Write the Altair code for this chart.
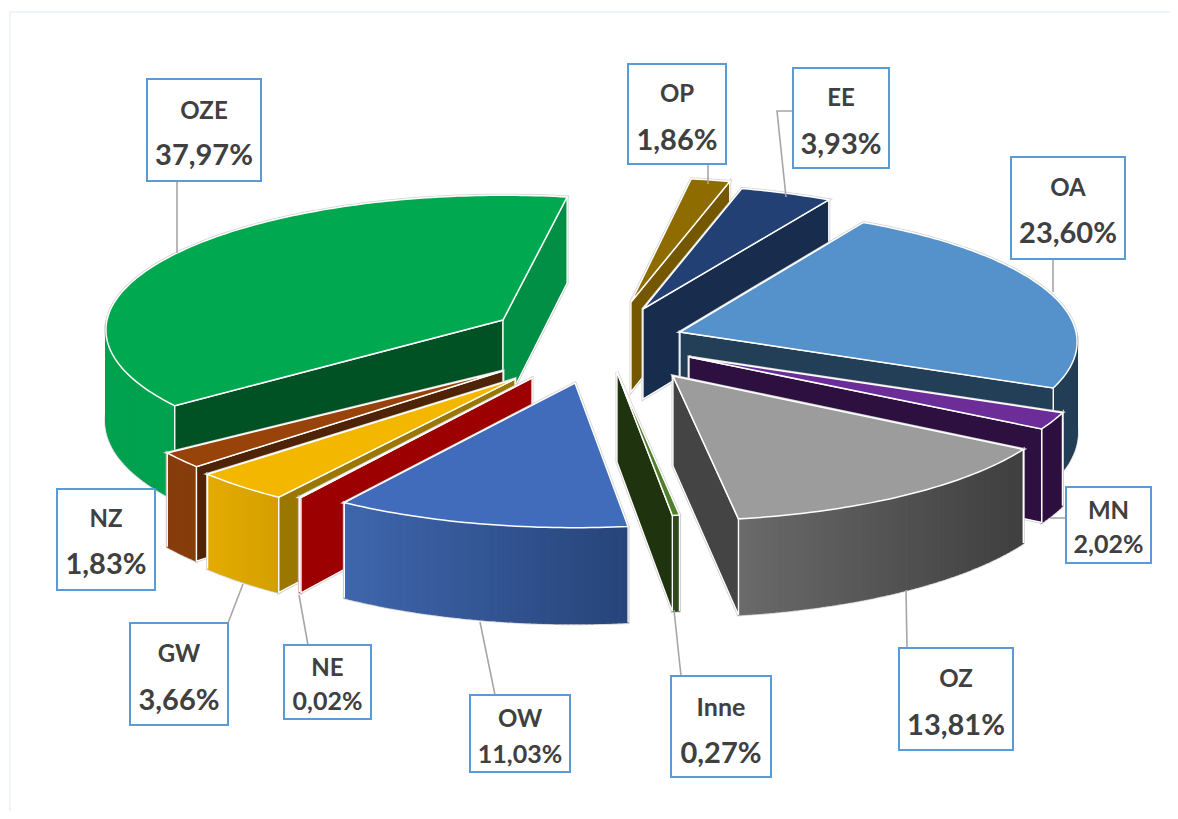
import math
import altair as alt

# --- chart values, clockwise from the first slice ---
names = ["OP", "EE", "OA", "MN", "OZ", "Inne", "OW", "NE", "GW", "NZ", "OZE"]
shares = [1.86, 3.93, 23.60, 2.02, 13.81, 0.27, 11.03, 0.02, 3.66, 1.83, 37.97]
share_text = ["1,86%", "3,93%", "23,60%", "2,02%", "13,81%", "0,27%", "11,03%", "0,02%", "3,66%", "1,83%", "37,97%"]

top_colors = ["#8E6C00", "#234074", "#5591CB", "#6C2D98", "#9C9C9C", "#4F7F2A", "#416CBB", "#C00000", "#F4B700", "#974309", "#00A84F"]
wall_left = ["#7A5C00", "#1A2E50", "#233F57", "#2D1040", "#6A6A6A", "#2F4A1F", "#3F66AD", "#9C0000", "#E4AB00", "#873D0B", "#00A14F"]
wall_right = ["#7A5C00", "#1A2E50", "#233F57", "#2D1040", "#3F3F3F", "#2F4A1F", "#27447A", "#9C0000", "#D49F00", "#873D0B", "#00A14F"]
face_start = ["#755700", "#182D4E", "#233F57", "#2D1040", "#444444", "#20330F", "#27447A", "#9C0000", "#9A7800", "#4F2306", "#005124"]
face_end = ["#755700", "#182D4E", "#233F57", "#2D1040", "#444444", "#20330F", "#3F66AD", "#9C0000", "#9A7800", "#4F2306", "#008F45"]

# --- 3-D pie geometry: where each exploded slice's tip sits ---
tip_x = [631, 643, 680, 689, 673, 617, 575, 532, 515, 503, 503]
tip_y = [302, 309, 332, 357, 376, 372, 383, 378, 379, 371, 320]
# perspective drift of each slice's two edges, in degrees
nudge_start = [0.6, 1.2, 1.3, 2.0, 1.3, 1.2, 0.9, 0.3, -0.5, -0.6, 1.0]
nudge_end = [1.2, 0.9, 1.9, 2.0, 1.6, 1.2, 0.35, 0.1, -0.8, -0.9, 0.0]
draw_order = ["OP", "EE", "OZE", "OA", "MN", "NZ", "GW", "NE", "OZ", "Inne", "OW"]
START_ANGLE = 10.0
RX, RY, PERSP = 396.0, 134.0, 0.074
DEPTH, DEPTH_P = 91.0, 5.0

# --- label boxes: left, top, right, bottom, name y, value y, name size, value size ---
boxes = {
    "OZE": (147, 79, 261, 181, 110, 155, 24, 29),
    "OP": (628, 64, 726, 164, 93, 140, 24, 29),
    "EE": (793, 68, 889, 168, 97, 144, 24, 29),
    "OA": (1011, 157, 1125, 259, 187, 233, 24, 29),
    "MN": (1066, 487, 1151, 563, 510, 544, 24, 25),
    "OZ": (899, 648, 1013, 750, 678, 725, 24, 29),
    "Inne": (671, 676, 771, 777, 706, 753, 25, 29),
    "OW": (470, 695, 570, 772, 718, 754, 24, 25),
    "NE": (284, 645, 371, 719, 667, 701, 24, 25),
    "GW": (130, 623, 228, 725, 653, 700, 24, 29),
    "NZ": (57, 489, 155, 590, 518, 564, 24, 29),
}
leaders = [
    [(177, 181), (177, 253)],
    [(708, 164), (708, 184)],
    [(793, 111), (777, 111), (786, 197)],
    [(1053, 259), (1053, 292)],
    [(1066, 518), (1050, 518)],
    [(907, 648), (906, 590)],
    [(681, 676), (674, 610)],
    [(495, 695), (480, 622)],
    [(308, 645), (299, 595)],
    [(228, 623), (243, 584)],
]

features = []


def add(kind, coords, fill, stroke, sw):
    features.append({
        "type": "Feature",
        "geometry": {"type": kind, "coordinates": coords},
        "properties": {},
        "f": fill, "s": stroke, "w": sw,
    })


def poly(points, fill, stroke, sw):
    ring = [list(p) for p in points]
    add("Polygon", [ring + [ring[0]]], fill, stroke, sw)


def mix(c1, c2, t):
    a = [int(c1[i:i + 2], 16) for i in (1, 3, 5)]
    b = [int(c2[i:i + 2], 16) for i in (1, 3, 5)]
    return "#%02x%02x%02x" % tuple(round(x + (y - x) * t) for x, y in zip(a, b))


def rim(i, deg):
    th = math.radians(deg)
    s = 1.0 / (1.0 + PERSP * math.cos(th))
    return (tip_x[i] + RX * math.sin(th) * s, tip_y[i] - RY * math.cos(th) * s)


def depth(deg):
    return DEPTH - DEPTH_P * math.cos(math.radians(deg))


def visible(tip, corner, inner):
    ex, ey = corner[0] - tip[0], corner[1] - tip[1]
    c1 = ex * (inner[1] - tip[1]) - ey * (inner[0] - tip[0])
    c2 = ex * 1.0
    return c1 * c2 < 0


total = sum(shares)
angles = {}
acc = START_ANGLE
for j, (n, v) in enumerate(zip(names, shares)):
    sweep = v / total * 360.0
    angles[n] = (acc - nudge_start[j], acc + sweep - nudge_end[j])
    acc += sweep

EDGE = "#D2D2D2"
for n in draw_order:
    i = names.index(n)
    a, b = angles[n]
    steps = max(2, int((b - a) / 1.0))
    degs = [a + (b - a) * k / steps for k in range(steps + 1)]
    arc = [rim(i, d) for d in degs]
    tip = (tip_x[i], tip_y[i])
    mid = rim(i, (a + b) / 2)
    d_tip = DEPTH - 1.0
    lo, hi = max(a, 90.0), min(b, 270.0)
    faces = []
    for corner_deg, col in ((a, face_start[i]), (b, face_end[i])):
        c = rim(i, corner_deg)
        if visible(tip, c, mid):
            faces.append(([tip, c, (c[0], c[1] + depth(corner_deg)), (tip[0], tip[1] + d_tip)], col))
    wall = None
    if hi > lo:
        n_s = max(2, int((hi - lo) / 0.8))
        wall = [lo + (hi - lo) * k / n_s for k in range(n_s + 1)]
    # silhouette first, in a soft grey
    for pts, col in faces:
        poly(pts, col, EDGE, 3)
    if wall:
        up = [rim(i, d) for d in wall]
        down = [(p[0], p[1] + depth(d)) for p, d in zip(up, wall)]
        poly(up + down[::-1], wall_left[i], EDGE, 3)
    poly([tip] + arc, top_colors[i], EDGE, 3)
    # walls as fine strips so they shade across their width
    if wall:
        xs = [rim(i, d)[0] for d in wall]
        xmin, xmax = min(xs), max(xs)
        for k in range(len(wall) - 1):
            d0, d1 = wall[k], wall[k + 1]
            p0, p1 = rim(i, d0), rim(i, d1)
            t = 0 if xmax == xmin else ((p0[0] + p1[0]) / 2 - xmin) / (xmax - xmin)
            col = mix(wall_left[i], wall_right[i], t)
            poly([p0, p1, (p1[0], p1[1] + depth(d1)), (p0[0], p0[1] + depth(d0))], col, col, 1.2)
        for d in (wall[0], wall[-1]):
            if d in (a, b):
                p = rim(i, d)
                add("LineString", [list(p), [p[0], p[1] + depth(d)]], "transparent", "#FFFFFF", 1.4)
    for pts, col in faces:
        poly(pts, col, "#FFFFFF", 1.3)
    poly([tip] + arc, top_colors[i], "#FFFFFF", 1.5)

# frame of the picture
add("LineString", [[10, 819], [10, 12], [1178, 12]], "transparent", "#EEF5FC", 2)

for line in leaders:
    add("LineString", [list(p) for p in line], "transparent", "#A6A6A6", 1.6)

texts = []
for n, txt in zip(names, share_text):
    l, t, r, b, y1, y2, s1, s2 = boxes[n]
    poly([(l, t), (r, t), (r, b), (l, b)], "#FFFFFF", "#5B9BD5", 2)
    cx = (l + r) / 2
    texts.append({"t": n, "lon": cx, "lat": y1 + 1.5, "size": s1})
    texts.append({"t": txt, "lon": cx, "lat": y2 + 1, "size": s2})

shapes = alt.Chart(alt.Data(values=features)).mark_geoshape().encode(
    fill=alt.Fill("f:N", scale=None),
    stroke=alt.Stroke("s:N", scale=None),
    strokeWidth=alt.StrokeWidth("w:Q", scale=None),
)

labels = alt.Chart(alt.Data(values=texts)).mark_text(
    font="Lato", fontWeight="bold", color="#404040", baseline="middle", align="center"
).encode(
    longitude="lon:Q",
    latitude="lat:Q",
    text="t:N",
    size=alt.Size("size:Q", scale=None),
)

chart = alt.layer(shapes, labels).project(
    type="identity", scale=1, translate=[-8, -8]
).properties(width=1162, height=803, padding=0, autosize="none").configure_view(stroke=None)

chart.save("out.html", embed_options={"renderer": "svg", "actions": False})
